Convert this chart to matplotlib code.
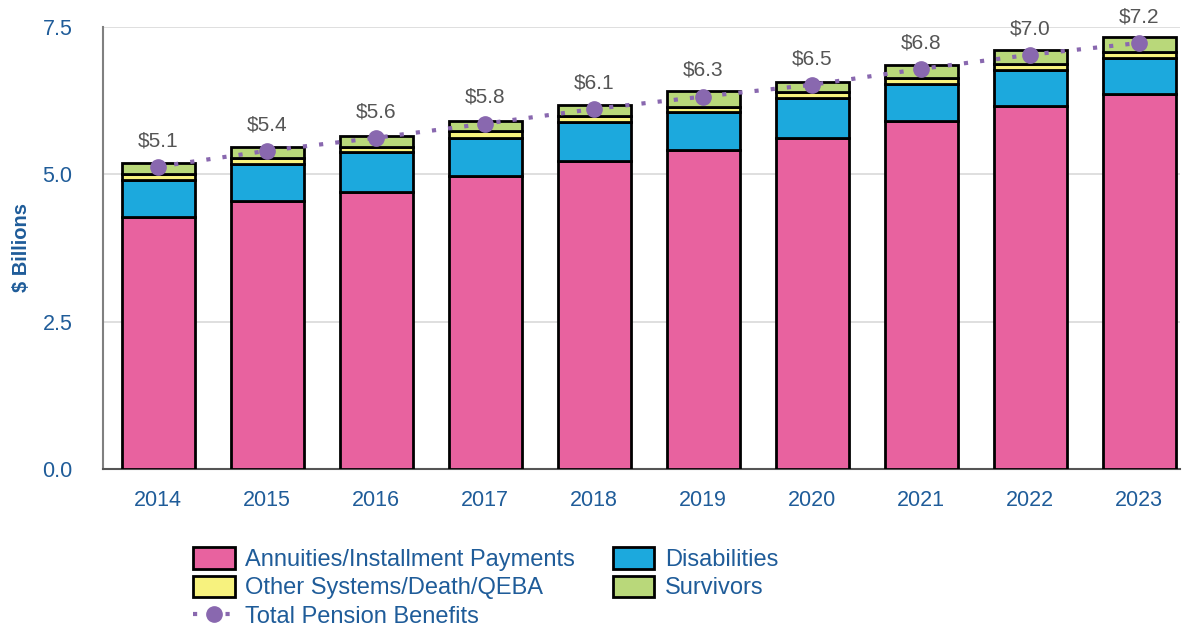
import matplotlib
matplotlib.use("Agg")
import matplotlib.pyplot as plt
from matplotlib.patches import Patch
from matplotlib.lines import Line2D
import numpy as np

plt.rcParams['font.family'] = ['Liberation Sans', 'DejaVu Sans']

years = ["2014", "2015", "2016", "2017", "2018", "2019", "2020", "2021", "2022", "2023"]
annuities = [4.27, 4.54, 4.70, 4.97, 5.22, 5.42, 5.62, 5.90, 6.16, 6.37]
disabilities = [0.64, 0.64, 0.68, 0.65, 0.67, 0.64, 0.68, 0.64, 0.61, 0.60]
other = [0.10, 0.09, 0.09, 0.12, 0.10, 0.09, 0.10, 0.09, 0.10, 0.11]
survivors = [0.19, 0.19, 0.18, 0.17, 0.18, 0.26, 0.17, 0.22, 0.24, 0.25]
total = [5.13, 5.40, 5.62, 5.86, 6.11, 6.32, 6.52, 6.79, 7.03, 7.23]
total_labels = ["$5.1", "$5.4", "$5.6", "$5.8", "$6.1", "$6.3", "$6.5", "$6.8", "$7.0", "$7.2"]
yticks = [0.0, 2.5, 5.0, 7.5]

c_ann = "#E8629F"
c_dis = "#1CA9DD"
c_oth = "#F7F27E"
c_sur = "#B9D87A"
c_tot = "#8968AF"
c_txt = "#1F5C99"

fig = plt.figure(figsize=(11.91, 6.30), dpi=100)
ax = fig.add_axes([0.0865, 0.2556, 0.9045, 0.7015])

x = np.arange(len(years))
w = 0.67
ann = np.array(annuities)
dis = np.array(disabilities)
oth = np.array(other)
sur = np.array(survivors)
kw = dict(width=w, edgecolor="black", linewidth=2, zorder=3)
ax.bar(x, ann, color=c_ann, **kw)
ax.bar(x, dis, bottom=ann, color=c_dis, **kw)
ax.bar(x, oth, bottom=ann + dis, color=c_oth, **kw)
ax.bar(x, sur, bottom=ann + dis + oth, color=c_sur, **kw)

ls_tot = (0, (1.0, 2.9))
ax.plot(x, total, linestyle=ls_tot, linewidth=3, color=c_tot,
        marker="o", markersize=11, zorder=5, dash_capstyle="butt")

for xi, t, lab in zip(x, total, total_labels):
    ax.annotate(lab, (xi, t), xytext=(0, 12), textcoords="offset points",
                ha="center", va="bottom", fontsize=15, color="#555555")

ax.set_ylim(0, 7.5)
ax.set_xlim(-0.505, 9.376)
ax.set_yticks(yticks)
ax.set_yticklabels([f"{v:.1f}" for v in yticks])
ax.set_xticks(x)
ax.set_xticklabels(years)
ax.tick_params(axis="both", length=0, labelsize=15.5, labelcolor=c_txt)
ax.tick_params(axis="y", pad=22)
ax.tick_params(axis="x", pad=15)
ax.yaxis.grid(True, color="#D9D9D9", linewidth=1.2, zorder=0)
ax.set_axisbelow(True)
for s in ["top", "right"]:
    ax.spines[s].set_visible(False)
ax.spines["left"].set_color("#808080")
ax.spines["left"].set_linewidth(1.5)
ax.spines["bottom"].set_color("#555555")
ax.spines["bottom"].set_linewidth(1.5)
ax.set_ylabel("$ Billions", fontsize=14.5, fontweight="bold", color=c_txt, labelpad=8)

handles = [
    Patch(facecolor=c_ann, edgecolor="black", linewidth=2),
    Patch(facecolor=c_oth, edgecolor="black", linewidth=2),
    Line2D([0], [0], linestyle=ls_tot, linewidth=3, color=c_tot, marker="o", markersize=11),
    Patch(facecolor=c_dis, edgecolor="black", linewidth=2),
    Patch(facecolor=c_sur, edgecolor="black", linewidth=2),
]
labels = ["Annuities/Installment Payments", "Other Systems/Death/QEBA", "Total Pension Benefits",
          "Disabilities", "Survivors"]
leg = fig.legend(handles, labels, ncol=2, loc="upper left", bbox_to_anchor=(0.1545, 0.146),
                 frameon=False, fontsize=17, handlelength=1.75, handleheight=1.0,
                 labelspacing=0.2, columnspacing=1.6, handletextpad=0.45, borderaxespad=0)
for t in leg.get_texts():
    t.set_color(c_txt)

fig.savefig("out.png", dpi=100)
